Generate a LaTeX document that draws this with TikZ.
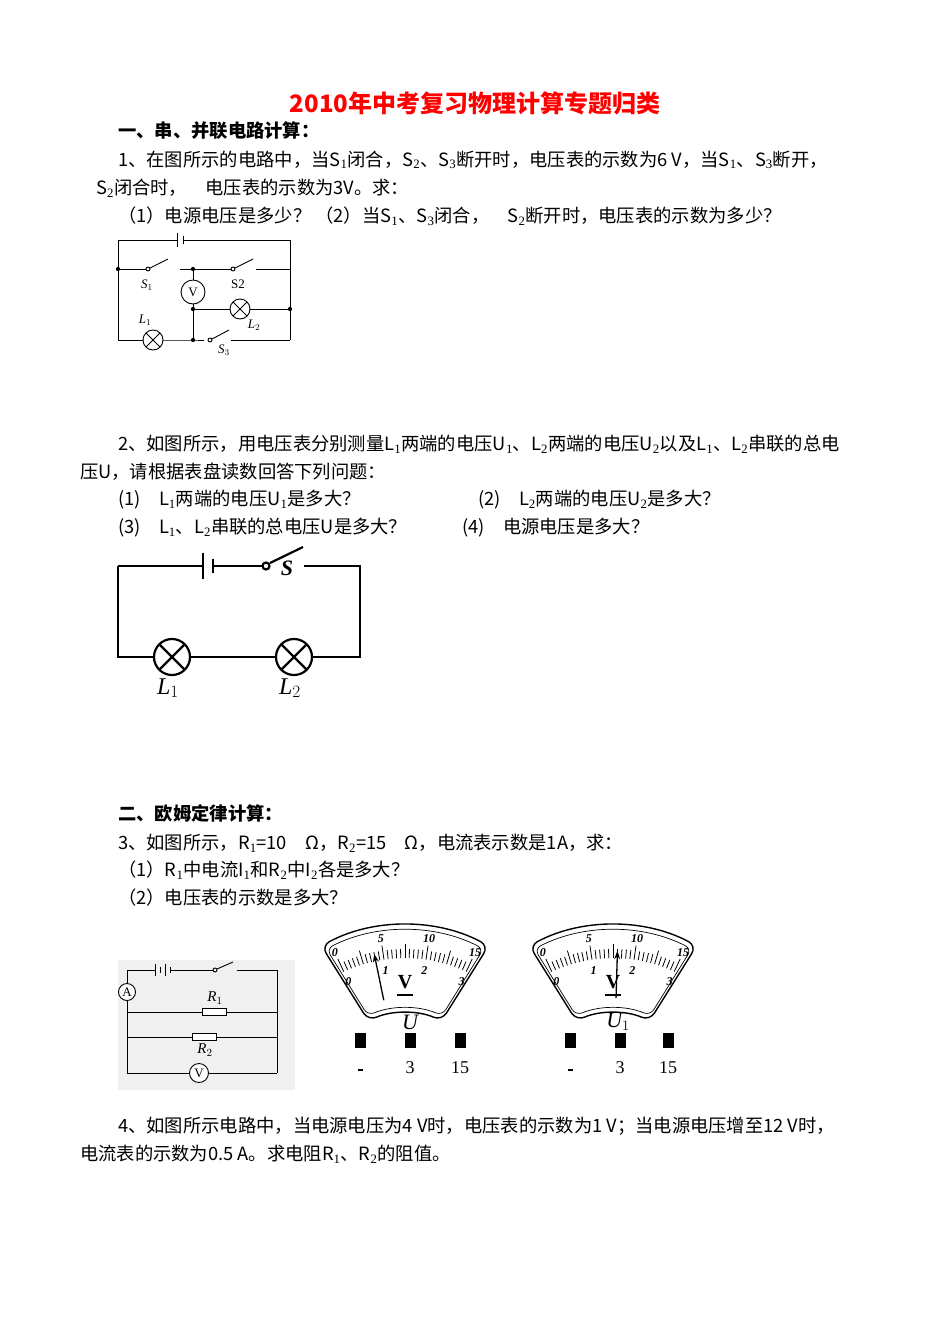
\documentclass[tikz,border=0pt]{standalone}
\usepackage{fontspec}
\usetikzlibrary{arrows.meta}
\setmainfont{Liberation Serif}
\newfontfamily\cjk{Noto Sans CJK SC}
\newcommand{\ssb}[1]{$_{\mathrm{#1}}$}
\newcommand{\fs}[1]{\fontsize{#1}{#1}\selectfont}
\begin{document}
\begin{tikzpicture}[x=1pt,y=-1pt,
  txt/.style={anchor=west,inner sep=0,font=\cjk\fs{18.3}},
  hd/.style={txt,font=\cjk\bfseries\fs{18.3}},
  w/.style={line width=0.9pt},
  tw/.style={line width=2.2pt},
  dot/.style={circle,fill,inner sep=1.5pt},
  lbl/.style={font=\itshape\fs{13},inner sep=1pt},
  lamp/.style={circle,draw,line width=0.9pt,minimum size=20pt,inner sep=0,fill=white,path picture={\draw[line width=0.9pt](path picture bounding box.north west)--(path picture bounding box.south east)(path picture bounding box.north east)--(path picture bounding box.south west);}},
  meterc/.style={circle,draw,line width=0.9pt,minimum size=22pt,inner sep=0,fill=white,font=\fs{13}},
  term/.style={fill,minimum width=11pt,minimum height=15pt,inner sep=0}]
\useasboundingbox (0,0) rectangle (950,1342);
% texts
\node[anchor=center,inner sep=0,text=red,font=\cjk\bfseries\fs{24}] (title) at (475,103) {2010年中考复习物理计算专题归类};
\node[hd] (h1) at (118,131) {一、串、并联电路计算：};
\node[txt] (q1a) at (118,160) {1、在图所示的电路中，当S\ssb1闭合，S\ssb2、S\ssb3断开时，电压表的示数为6 V，当S\ssb1、S\ssb3断开，};
\node[txt] (q1b) at (96,188) {S\ssb2闭合时，\quad 电压表的示数为3V。求：};
\node[txt] (q1c) at (118,216) {（1）电源电压是多少？ （2）当S\ssb1、S\ssb3闭合，\quad S\ssb2断开时，电压表的示数为多少？};
\node[txt] (q2a) at (118,444) {2、如图所示，用电压表分别测量L\ssb1两端的电压U\ssb1、L\ssb2两端的电压U\ssb2以及L\ssb1、L\ssb2串联的总电};
\node[txt] (q2b) at (80,472) {压U，请根据表盘读数回答下列问题：};
\node[txt] (q2c) at (118,500) {(1)\quad L\ssb1两端的电压U\ssb1是多大？};
\node[txt] (q2d) at (478,500) {(2)\quad L\ssb2两端的电压U\ssb2是多大？};
\node[txt] (q2e) at (118,528) {(3)\quad L\ssb1、L\ssb2串联的总电压U是多大？};
\node[txt] (q2f) at (462,528) {(4)\quad 电源电压是多大？};
\node[hd] (h2) at (118,813) {二、欧姆定律计算：};
\node[txt] (q3a) at (118,843) {3、如图所示，R\ssb1=10\quad Ω，R\ssb2=15\quad Ω，电流表示数是1A，求：};
\node[txt] (q3b) at (118,870) {（1）R\ssb1中电流I\ssb1和R\ssb2中I\ssb2各是多大？};
\node[txt] (q3c) at (118,898) {（2）电压表的示数是多大？};
\node[txt] (q4a) at (118,1126) {4、如图所示电路中，当电源电压为4 V时，电压表的示数为1 V；当电源电压增至12 V时，};
\node[txt] (q4b) at (80,1154) {电流表的示数为0.5 A。求电阻R\ssb1、R\ssb2的阻值。};
% ---------- circuit 1
\draw[w] (118,240)--(177,240) (177,233)--(177,247) (183,236)--(183,244) (183,240)--(290,240)--(290,340);
\draw[w] (118,240)--(118,340)--(143,340) (163,340)--(193,340)--(204,340);
\node[dot] (j1) at (118,269) {};
\draw[w] (j1)--(146,269); \draw[w] (148,269) circle (2pt); \draw[w] (150,268)--(168,259);
\draw[w] (180,269)--(231,269); \draw[w] (233,269) circle (2pt); \draw[w] (235,268)--(253,259);
\draw[w] (256,269)--(290,269);
\node[dot] (j2) at (193,269) {};
\node[meterc,minimum size=24pt] (V1) at (193,292) {V};
\draw[w] (j2)--(V1) (V1)--(193,340);
\node[dot] (j3) at (193,309) {}; \node[dot] (j4) at (290,309) {};
\draw[w] (j3)--(j4);
\node[lamp,minimum size=20pt] (L2a) at (240,309) {};
\node[lamp,minimum size=20pt] (L1a) at (153,340) {};
\node[dot] (j5) at (193,340) {};
\draw[w] (210,340) circle (2pt); \draw[w] (212,339)--(229,330); \draw[w] (231,340)--(290,340);
\node[lbl] at (147,285) {S$_1$}; \node[font=\fs{13}] at (238,284) {S2};
\node[lbl] at (145,320) {L$_1$}; \node[lbl] at (254,325) {L$_2$}; \node[lbl] at (224,350) {S$_3$};
% ---------- circuit 2
\draw[tw] (118,566)--(118,657)--(153,657) (191,657)--(275,657) (313,657)--(360,657)--(360,566)--(304,566);
\draw[tw] (118,566)--(203,566) (203,553)--(203,579) (213,559)--(213,573) (213,566)--(262,566);
\draw[tw] (266,566) circle (3.5pt); \draw[tw] (270,563)--(303,547);
\node[lamp,line width=2.2pt,minimum size=36pt,path picture={\draw[line width=2.2pt](path picture bounding box.north west)--(path picture bounding box.south east)(path picture bounding box.north east)--(path picture bounding box.south west);}] (L1b) at (172,657) {};
\node[lamp,line width=2.2pt,minimum size=36pt,path picture={\draw[line width=2.2pt](path picture bounding box.north west)--(path picture bounding box.south east)(path picture bounding box.north east)--(path picture bounding box.south west);}] (L2b) at (294,657) {};
\node[font=\itshape\bfseries\fs{22}] at (287,568) {S};
\node[font=\itshape\fs{24}] at (168,688) {L$_1$};
\node[font=\itshape\fs{24}] at (290,688) {L$_2$};
% ---------- circuit 3
\fill[black!6] (118,960) rectangle (295,1090);
\draw[w] (127,984)--(127,970)--(155,970) (155,964)--(155,976) (160,967)--(160,973) (165,964)--(165,976) (170,967)--(170,973) (170,970)--(213,970);
\draw[w] (215,970) circle (2pt); \draw[w] (217,969)--(233,962); \draw[w] (237,970)--(277,970)--(277,1073);
\node[meterc,minimum size=17pt] (A3) at (127,992) {A};
\draw[w] (A3)--(127,1073)--(190,1073) (208,1073)--(277,1073);
\node[meterc,minimum size=19pt] (V3) at (199,1073) {V};
\draw[w] (127,1012)--(277,1012) (127,1037)--(277,1037);
\node[draw,fill=white,line width=0.9pt,minimum width=24pt,minimum height=7pt,inner sep=0] (R1) at (214,1012) {};
\node[draw,fill=white,line width=0.9pt,minimum width=24pt,minimum height=7pt,inner sep=0] (R2) at (204,1037) {};
\node[lbl,font=\itshape\fs{15}] at (215,998) {R$_1$}; \node[lbl,font=\itshape\fs{15}] at (205,1050) {R$_2$};
% ---------- meters
\foreach \cx/\val/\lab in {405/4/U, 613/8/U$_1$}{
\begin{scope}[shift={(\cx,1103)},yscale=-1]
  \draw[line width=1.4pt,rounded corners=9pt] (62:178)arc(62:118:178)--(114:90)arc(114:66:90)--cycle;
  \draw[line width=0.7pt,rounded corners=7pt] (63:173)arc(63:117:173)--(113:95)arc(113:67:95)--cycle;
  \foreach \i in {0,...,30}{
    \pgfmathsetmacro\a{115-50*\i/30}
    \pgfmathsetmacro\l{mod(\i,5)==0?14:9}
    \draw[line width=0.8pt] (\a:145)--(\a:145+\l);
  }
  \foreach \i/\t in {0/0,10/5,20/10,30/15}{\pgfmathsetmacro\a{115-50*\i/30}\node[font=\bfseries\itshape\fs{12}] at (\a:166) {\t};}
  \foreach \i/\t in {0/0,10/1,20/2,30/3}{\pgfmathsetmacro\a{115-50*\i/30}\node[font=\bfseries\itshape\fs{12}] at (\a:134) {\t};}
  \node[font=\bfseries\fs{20}] at (0,121) {V}; \draw[line width=1.2pt] (-8,108)--(8,108);
  \pgfmathsetmacro\na{115-50*\val/15}
  \draw[line width=1.3pt,-{Stealth[length=8pt]}] (\na:105)--(\na:152);
\end{scope}
\node[font=\itshape\fs{22}] at (\cx+5,1022) {\lab};
}
\foreach \x/\t in {360/{\rule[-6pt]{5pt}{2pt}},410/3,460/15,570/{\rule[-6pt]{5pt}{2pt}},620/3,668/15}{
  \node[term] (t\x) at (\x,1040) {};
  \node[font=\fs{18}] at (\x,1068) {\t};
}
\end{tikzpicture}
\end{document}
